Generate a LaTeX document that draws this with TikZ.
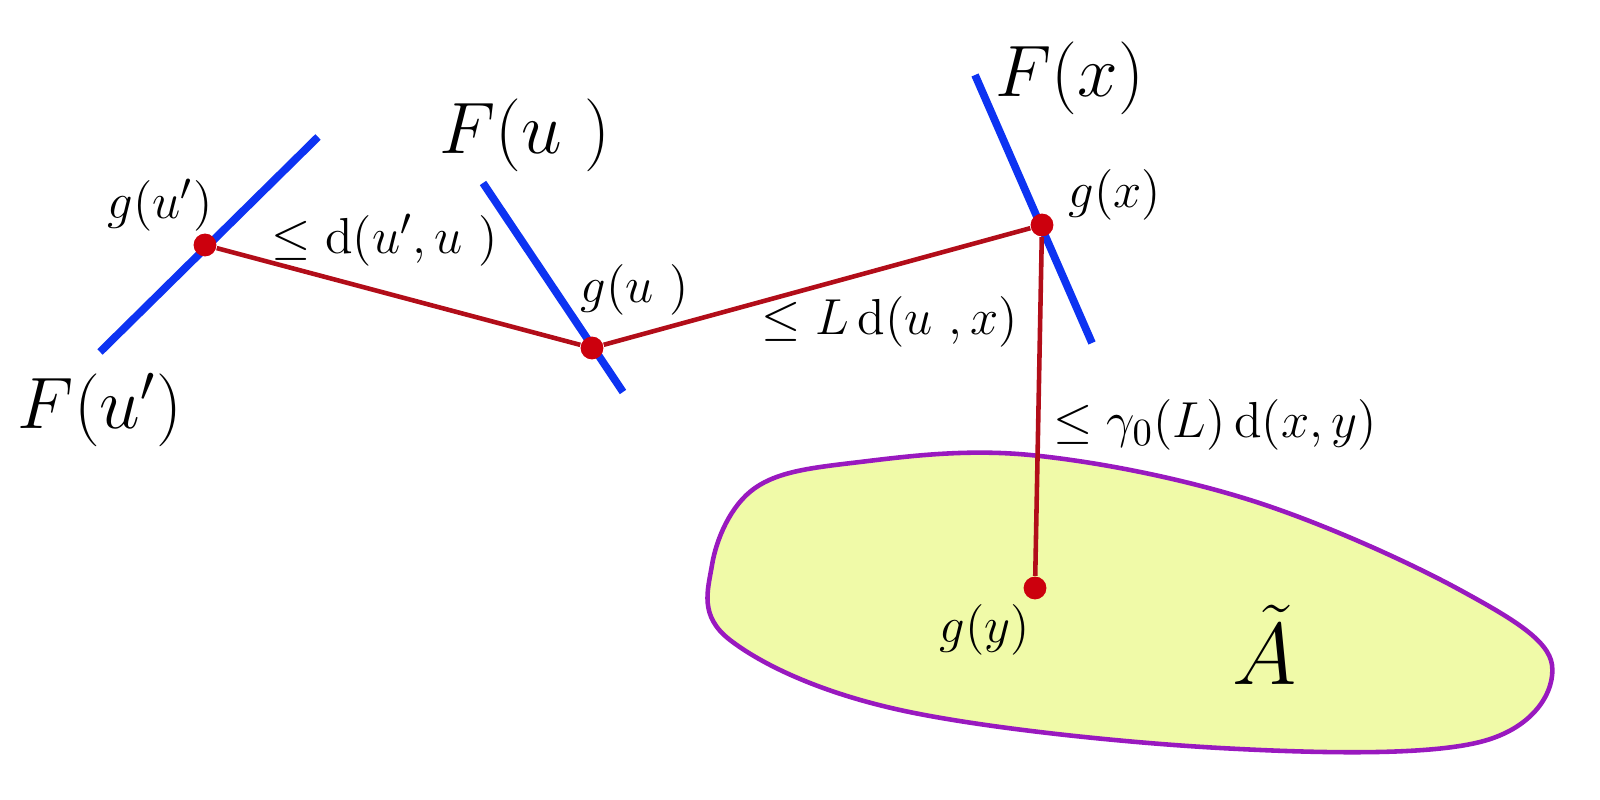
\documentclass[tikz,border=0pt]{standalone}
\usepackage{amsmath}
\definecolor{fibreBlue}{rgb}{0.05,0.2,0.95}
\definecolor{pathRed}{rgb}{0.7,0.05,0.1}
\definecolor{dotRed}{rgb}{0.8,0,0.05}
\definecolor{setFill}{rgb}{0.94,0.98,0.66}
\definecolor{setBorder}{rgb}{0.6,0.1,0.75}
\usetikzlibrary{positioning}
\tikzset{
    fibre/.style={draw=fibreBlue, line width=2.2pt},
    link/.style={draw=pathRed, line width=1.3pt},
    point/.style={circle, fill=dotRed, inner sep=0pt, minimum size=6.5pt},
    biglabel/.style={font=\fontsize{21}{24}\selectfont},
    smalllabel/.style={font=\fontsize{15}{18}\selectfont},
}
\begin{document}
\begin{tikzpicture}
    \useasboundingbox (0,0) rectangle (16,8);
    % the set A tilde
    \draw [fill=setFill, draw=setBorder, line width=1.3pt]
        plot [smooth cycle, tension=0.6] coordinates {
            (7.55,3.12) (8.6,3.38) (10.3,3.45) (12.5,3.0) (14.6,2.1)
            (15.52,1.35) (14.8,0.58) (12.2,0.52) (9.0,0.9) (7.3,1.6) (7.12,2.35)};
    % fibres
    \draw [fibre] (1.00,4.48) -- (3.18,6.63);
    \draw [fibre] (4.83,6.17) -- (6.23,4.08);
    \draw [fibre] (9.75,7.25) -- (10.92,4.57);
    % points
    \node [point] (gup) at (2.05,5.55) {};
    \node [point] (gu) at (5.92,4.52) {};
    \node [point] (gx) at (10.42,5.75) {};
    \node [point] (gy) at (10.35,2.12) {};
    \draw [link] (gup) -- (gu);
    \draw [link] (gu) -- (gx);
    \draw [link] (gx) -- (gy);
    % labels
    \node [biglabel] (Fup) at (1.00,3.90) {$F(u')$};
    \node [biglabel] (Fu) at (5.25,6.65) {$F(u\ )$};
    \node [biglabel] (Fx) at (10.70,7.22) {$F(x)$};
    \node [smalllabel] (lgup) at (1.60,5.95) {$g(u')$};
    \node [smalllabel] (lgu) at (6.35,5.10) {$g(u\ )$};
    \node [smalllabel] (lgx) at (11.15,6.05) {$g(x)$};
    \node [smalllabel] (lgy) at (9.85,1.70) {$g(y)$};
    \node [smalllabel] (d1) at (3.85,5.60) {$\le \mathrm{d}(u',u\ )$};
    \node [smalllabel] (d2) at (8.90,4.78) {$\le L\,\mathrm{d}(u\ ,x)$};
    \node [smalllabel] (d3) at (12.15,3.75) {$\le \gamma_{0}(L)\,\mathrm{d}(x,y)$};
    \node [font=\fontsize{30}{34}\selectfont, inner sep=0pt] (A) at (12.65,1.55) {$\tilde{A}$};
\end{tikzpicture}
\end{document}
